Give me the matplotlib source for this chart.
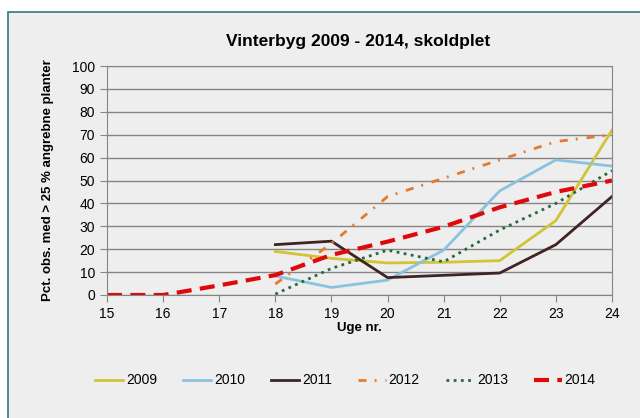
import matplotlib.pyplot as plt
from matplotlib.patches import Rectangle

plt.rcParams['font.family'] = ['Liberation Sans', 'DejaVu Sans']

weeks = [15, 16, 17, 18, 19, 20, 21, 22, 23, 24]
weeks_late = [18, 19, 20, 21, 22, 23, 24]

v2009 = [19, 16, 14, 14.3, 15, 32.5, 72]
v2010 = [8.3, 3.3, 6.5, 19.6, 45.5, 59, 56.3]
v2011 = [22, 23.5, 7.6, 8.6, 9.6, 22, 43]
v2012 = [4.8, 22.5, 43, 51, 59, 67, 70]
v2013 = [0.4, 11.6, 19.6, 14.5, 28.4, 40, 54.3]
v2014 = [0, 0, 4.2, 8.7, 17.5, 23.3, 29.8, 38.3, 45, 50]

bg = '#EEEEEE'
fig = plt.figure(figsize=(6.4, 4.18), dpi=100, facecolor='white')
# chart area with teal border
fig.patches.append(Rectangle((8 / 640, -0.1), 1.2, 1 - 12 / 418 + 0.1,
                             transform=fig.transFigure, facecolor=bg,
                             edgecolor='#2E7A80', linewidth=1.2, zorder=-5))

ax = fig.add_axes([107 / 640, 123 / 418, 505 / 640, 229 / 418])
ax.set_facecolor(bg)

ax.plot(weeks_late, v2009, color='#D2C432', lw=2, label='2009')
ax.plot(weeks_late, v2010, color='#8AC3DF', lw=2, label='2010')
ax.plot(weeks_late, v2011, color='#3E2424', lw=2, label='2011')
ax.plot(weeks_late, v2012, color='#E8792A', lw=2, dashes=(2.9, 2.9, 0.7, 3.2),
        label='2012')
ax.plot(weeks_late, v2013, color='#236B3E', lw=2, ls=(0, (1, 1.6)), label='2013')
ax.plot(weeks, v2014, color='#E00808', lw=3, dashes=(3.6, 2.0), label='2014')

ax.set_xlim(15, 24)
ax.set_ylim(0, 100)
ax.set_xticks(range(15, 25))
ax.set_yticks(range(0, 101, 10))
ax.grid(axis='y', color='#858585', lw=1)
ax.set_axisbelow(True)
for s in ax.spines.values():
    s.set_color('#858585')
ax.tick_params(colors='#858585', labelcolor='black', labelsize=10, length=5)

ax.set_xlabel('Uge nr.', fontsize=9.5, fontweight='bold', labelpad=1)
ax.set_ylabel('Pct. obs. med > 25 % angrebne planter', fontsize=9.5,
              fontweight='bold', labelpad=13)
fig.text(0.56, 0.9, 'Vinterbyg 2009 - 2014, skoldplet', ha='center',
         va='center', fontsize=12.5, fontweight='bold')

fig.legend(loc='center', bbox_to_anchor=(0.54, 0.09), ncol=6, frameon=False,
           fontsize=10, handlelength=2.0, handletextpad=0.2, columnspacing=1.9)

fig.savefig('out.png', dpi=100, facecolor='white')
